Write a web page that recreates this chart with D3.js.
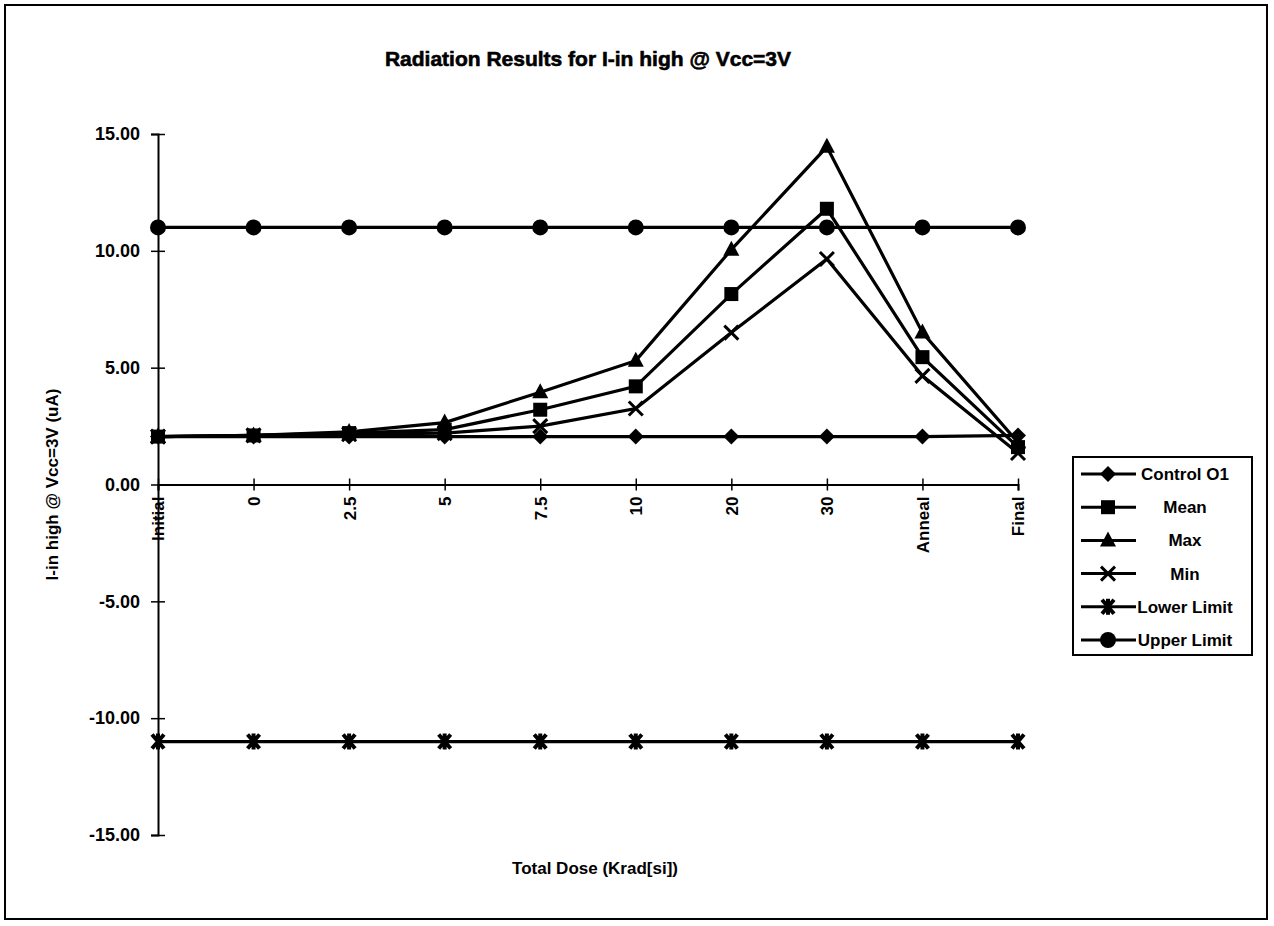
<!DOCTYPE html>
<html>
<head>
<meta charset="utf-8">
<script src="https://cdn.jsdelivr.net/npm/d3@7"></script>
<style>
  body { margin: 0; background: #fff; }
  text { font-family: "Liberation Sans", Arial, sans-serif; font-weight: bold; fill: #000; }
</style>
</head>
<body>
<div id="chart"></div>
<script>
// categories on the x axis
const doses = ["Initial", "0", "2.5", "5", "7.5", "10", "20", "30", "Anneal", "Final"];

// series values (uA)
const control01  = [2.05, 2.05, 2.05, 2.05, 2.05, 2.05, 2.05, 2.05, 2.05, 2.1];
const meanVals   = [2.05, 2.1, 2.2, 2.35, 3.2, 4.2, 8.15, 11.8, 5.45, 1.6];
const maxVals    = [2.05, 2.1, 2.25, 2.65, 3.95, 5.3, 10.05, 14.45, 6.5, 1.8];
const minVals    = [2.05, 2.1, 2.15, 2.2, 2.5, 3.25, 6.5, 9.65, 4.65, 1.35];
const lowerLimit = [-11, -11, -11, -11, -11, -11, -11, -11, -11, -11];
const upperLimit = [11, 11, 11, 11, 11, 11, 11, 11, 11, 11];

const seriesNames = ["Control O1", "Mean", "Max", "Min", "Lower Limit", "Upper Limit"];
const yTicks = [-15, -10, -5, 0, 5, 10, 15];

const W = 1274, H = 926;

const svg = d3.select("#chart")
  .append("svg")
  .attr("width", W)
  .attr("height", H);

// outer frame
svg.append("rect")
  .attr("x", 5).attr("y", 5)
  .attr("width", 1262).attr("height", 914)
  .attr("fill", "none").attr("stroke", "#000").attr("stroke-width", 2);

const x = d3.scalePoint()
  .domain(doses)
  .range([158, 1018]);

const y = d3.scaleLinear()
  .domain([-15, 15])
  .range([835, 134]);

// title
svg.append("text")
  .attr("x", 588).attr("y", 66)
  .attr("text-anchor", "middle")
  .style("font-size", "21px")
  .style("stroke", "#000").style("stroke-width", 0.6)
  .text("Radiation Results for I-in high @ Vcc=3V");

// Y axis
const yAxis = svg.append("g")
  .attr("transform", `translate(${x(doses[0])},0)`)
  .call(d3.axisLeft(y).tickValues(yTicks).tickSizeOuter(0).tickSize(7)
    .tickFormat(d => d.toFixed(2)));
yAxis.selectAll(".tick line").attr("x1", 7).attr("stroke-width", 1.5);
yAxis.select(".domain").attr("stroke-width", 2);
yAxis.selectAll(".tick text")
  .attr("x", -18)
  .style("font-size", "18px");

// X axis at zero
const xAxis = svg.append("g")
  .attr("transform", `translate(0,${y(0)})`)
  .call(d3.axisBottom(x).tickSizeOuter(0).tickSize(6));
xAxis.selectAll(".tick line").attr("y1", -6).attr("stroke-width", 1.5);
xAxis.select(".domain").attr("stroke-width", 2);
xAxis.selectAll(".tick text")
  .attr("transform", "rotate(-90)")
  .attr("x", -12)
  .attr("y", 0)
  .attr("dy", "0.35em")
  .attr("text-anchor", "end")
  .style("font-size", "17px");

// axis titles
svg.append("text")
  .attr("transform", `translate(52,${y(0)}) rotate(-90)`)
  .attr("text-anchor", "middle")
  .attr("dy", "0.35em")
  .style("font-size", "17px")
  .text("I-in high @ Vcc=3V (uA)");

svg.append("text")
  .attr("x", 595).attr("y", 874)
  .attr("text-anchor", "middle")
  .style("font-size", "17px")
  .text("Total Dose (Krad[si])");

// markers
function drawMarker(g, type) {
  if (type === "diamond") {
    g.append("path").attr("d", "M0,-8L8,0L0,8L-8,0Z").attr("fill", "#000");
  } else if (type === "square") {
    g.append("rect").attr("x", -7).attr("y", -7).attr("width", 14).attr("height", 14).attr("fill", "#000");
  } else if (type === "triangle") {
    g.append("path").attr("d", "M0,-9L8,6L-8,6Z").attr("fill", "#000");
  } else if (type === "x") {
    g.append("path").attr("d", "M-7,-7L7,7M7,-7L-7,7").attr("stroke", "#000").attr("stroke-width", 3);
  } else if (type === "star") {
    g.append("path").attr("d", "M-6,-7L6,7M6,-7L-6,7M0,-8L0,8").attr("stroke", "#000").attr("stroke-width", 4);
  } else if (type === "circle") {
    g.append("circle").attr("r", 8).attr("fill", "#000");
  }
}

const series = [
  {name: seriesNames[0], values: control01, marker: "diamond"},
  {name: seriesNames[1], values: meanVals, marker: "square"},
  {name: seriesNames[2], values: maxVals, marker: "triangle"},
  {name: seriesNames[3], values: minVals, marker: "x"},
  {name: seriesNames[4], values: lowerLimit, marker: "star"},
  {name: seriesNames[5], values: upperLimit, marker: "circle"}
];

const line = d3.line()
  .x((d, i) => x(doses[i]))
  .y(d => y(d));

series.forEach(s => {
  svg.append("path")
    .datum(s.values)
    .attr("d", line)
    .attr("fill", "none")
    .attr("stroke", "#000")
    .attr("stroke-width", 3.2);
  s.values.forEach((v, i) => {
    const g = svg.append("g").attr("transform", `translate(${x(doses[i])},${y(v)})`);
    drawMarker(g, s.marker);
  });
});

// legend
const legend = svg.append("g");
legend.append("rect")
  .attr("x", 1073).attr("y", 457)
  .attr("width", 179).attr("height", 198)
  .attr("fill", "#fff").attr("stroke", "#000").attr("stroke-width", 2);

series.forEach((s, i) => {
  const ly = 474 + i * 33.2;
  legend.append("line")
    .attr("x1", 1081).attr("x2", 1136)
    .attr("y1", ly).attr("y2", ly)
    .attr("stroke", "#000").attr("stroke-width", 3);
  drawMarker(legend.append("g").attr("transform", `translate(1108,${ly})`), s.marker);
  legend.append("text")
    .attr("x", 1185).attr("y", ly)
    .attr("dy", "0.35em")
    .attr("text-anchor", "middle")
    .style("font-size", "17px")
    .text(s.name);
});
</script>
</body>
</html>
